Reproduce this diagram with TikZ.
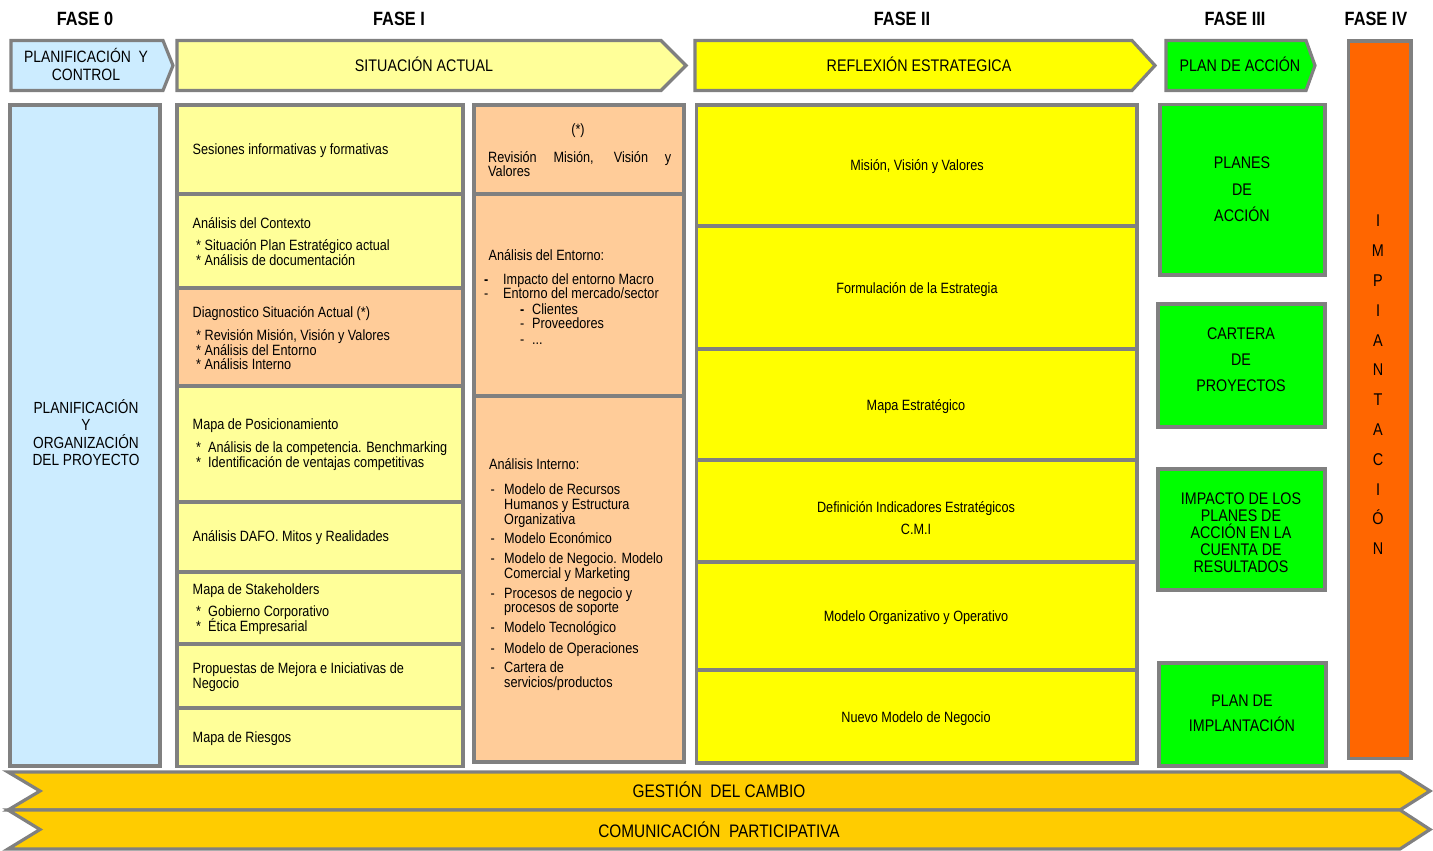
\documentclass[tikz,border=0pt]{standalone}
\usepackage{fontspec}
\setmainfont{Liberation Sans}[FakeStretch=0.85]
\usetikzlibrary{fit}
\definecolor{bordergray}{HTML}{808080}
\definecolor{lblue}{HTML}{CCECFF}
\definecolor{lyellow}{HTML}{FFFF99}
\definecolor{lorange}{HTML}{FFCC99}
\definecolor{yel}{HTML}{FFFF00}
\definecolor{grn}{HTML}{00FF00}
\definecolor{orng}{HTML}{FF6600}
\definecolor{gold}{HTML}{FFCC00}
\begin{document}
\begin{tikzpicture}[x=1pt,y=-1pt,
  box/.style={draw=bordergray, line width=3.2pt, inner sep=0pt, outer sep=0pt},
  arrowshape/.style={draw=bordergray, line width=3.2pt, line join=miter},
  txt/.style={inner sep=0pt, anchor=base west, font=\fontsize{14.9}{17.6}\selectfont},
  ctxt/.style={inner sep=0pt, anchor=base, font=\fontsize{14.9}{17.6}\selectfont},
  hdr/.style={inner sep=0pt, anchor=center, font=\fontsize{19.2}{22}\selectfont\bfseries},
  bigtxt/.style={inner sep=0pt, align=center, anchor=center, font=\fontsize{16.8}{18}\selectfont},
  bandtxt/.style={inner sep=0pt, anchor=center, font=\fontsize{18.1}{20}\selectfont},
]
\useasboundingbox (0,0) rectangle (1433,851);

% phase headers
\node[hdr] (h0) at (85,19) {FASE 0};
\node[hdr] (h1) at (399,19) {FASE I};
\node[hdr] (h2) at (902,19) {FASE II};
\node[hdr] (h3) at (1235,19) {FASE III};
\node[hdr] (h4) at (1376,19) {FASE IV};

% top arrows
\draw[arrowshape, fill=lblue] (11,40.5) -- (163,40.5) -- (173,65.5) -- (163,90.5) -- (11,90.5) -- cycle;
\draw[arrowshape, fill=lyellow] (177,40.5) -- (661,40.5) -- (686,65.5) -- (661,90.5) -- (177,90.5) -- cycle;
\draw[arrowshape, fill=yel] (695,40.5) -- (1132,40.5) -- (1155,65.5) -- (1132,90.5) -- (695,90.5) -- cycle;
\draw[arrowshape, fill=grn] (1166,40.5) -- (1306,40.5) -- (1315,65.5) -- (1306,90.5) -- (1166,90.5) -- cycle;
\node[bigtxt, font=\fontsize{16.4}{18}\selectfont] (a0t) at (86,64.5) {PLANIFICACIÓN\ \ Y\\CONTROL};
\node[bigtxt, anchor=base] (a1t) at (424,71.5) {SITUACIÓN ACTUAL};
\node[bigtxt, anchor=base] (a2t) at (919,71.5) {REFLEXIÓN ESTRATEGICA};
\node[bigtxt, anchor=base] (a3t) at (1240,71.5) {PLAN DE ACCIÓN};

% Fase IV bar
\node[box, fill=orng, fit={(1348.5,41) (1411,758.5)}] (impl) {};
\node[bigtxt, font=\fontsize{17}{29.8}\selectfont] (implt) at (1378,385) {I\\M\\P\\I\\A\\N\\T\\A\\C\\I\\Ó\\N};

% Fase 0
\node[box, fill=lblue, fit={(10,105) (160,766)}] (lb) {};
\node[bigtxt, font=\fontsize{16.1}{17.3}\selectfont] (lbt) at (86,432.5) {PLANIFICACIÓN\\Y\\ORGANIZACIÓN\\DEL PROYECTO};

% Fase I left column
\node[box, fill=lyellow, fit={(177,105) (463,194)}] (f1a) {};
\node[box, fill=lyellow, fit={(177,194) (463,288)}] (f1b) {};
\node[box, fill=lorange, fit={(177,288) (463,386)}] (f1c) {};
\node[box, fill=lyellow, fit={(177,386) (463,502)}] (f1d) {};
\node[box, fill=lyellow, fit={(177,502) (463,572)}] (f1e) {};
\node[box, fill=lyellow, fit={(177,572) (463,644)}] (f1f) {};
\node[box, fill=lyellow, fit={(177,644) (463,708)}] (f1g) {};
\node[box, fill=lyellow, fit={(177,708) (463,766.5)}] (f1h) {};

\node[txt] (t1) at (192.5,154) {Sesiones informativas y formativas};
\node[txt] (t2) at (192.5,228) {Análisis del Contexto};
\node[txt] (t3) at (196,250) {*\ Situación Plan Estratégico actual};
\node[txt] (t4) at (196,265.5) {*\ Análisis de documentación};
\node[txt] (t5) at (192.5,317) {Diagnostico Situación Actual (*)};
\node[txt] (t6) at (196,340.5) {*\ Revisión Misión, Visión y Valores};
\node[txt] (t7) at (196,355) {*\ Análisis del Entorno};
\node[txt] (t8) at (196,369.5) {*\ Análisis Interno};
\node[txt] (t9) at (192.5,429) {Mapa de Posicionamiento};
\node[txt] (t10) at (196,452.5) {*\ \ Análisis de la competencia. Benchmarking};
\node[txt] (t11) at (196,467) {*\ \ Identificación de ventajas competitivas};
\node[txt] (t12) at (192.5,541.5) {Análisis DAFO. Mitos y Realidades};
\node[txt] (t13) at (192.5,594) {Mapa de Stakeholders};
\node[txt] (t14) at (196,616.5) {*\ \ Gobierno Corporativo};
\node[txt] (t15) at (196,631.5) {*\ \ Ética Empresarial};
\node[txt] (t16) at (192.5,673) {Propuestas de Mejora e Iniciativas de};
\node[txt] (t17) at (192.5,688) {Negocio};
\node[txt] (t18) at (192.5,742) {Mapa de Riesgos};

% Fase I orange column
\node[box, fill=lorange, fit={(474,105) (684,194)}] (o1) {};
\node[box, fill=lorange, fit={(474,194) (684,396)}] (o2) {};
\node[box, fill=lorange, fit={(474,396) (684,762)}] (o3) {};

\node[ctxt] (u1) at (578,134) {(*)};
\node[txt] (u2) at (488,162) {\makebox[183pt][s]{Revisión Misión, Visión y}};
\node[txt] (u3) at (488,176.5) {Valores};
\node[txt] (u4) at (488.5,260.5) {Análisis del Entorno:};
\node[txt] (u5) at (484,284.5) {\makebox[19pt][l]{\textbf{-}}Impacto del entorno Macro};
\node[txt] (u6) at (484,298) {\makebox[19pt][l]{-}Entorno del mercado/sector};
\node[txt] (u7) at (520,314) {\makebox[12pt][l]{\textbf{-}}Clientes};
\node[txt] (u8) at (520,328) {\makebox[12pt][l]{-}Proveedores};
\node[txt] (u9) at (520,344) {\makebox[12pt][l]{-}...};

\node[txt] (v0) at (489,469.5) {Análisis Interno:};
\node[txt] (v1) at (490.5,494) {\makebox[13.5pt][l]{-}Modelo de Recursos};
\node[txt] (v2) at (504,509) {Humanos y Estructura};
\node[txt] (v3) at (504,524) {Organizativa};
\node[txt] (v4) at (490.5,543) {\makebox[13.5pt][l]{-}Modelo Económico};
\node[txt] (v5) at (490.5,563.5) {\makebox[13.5pt][l]{-}Modelo de Negocio. Modelo};
\node[txt] (v6) at (504,578) {Comercial y Marketing};
\node[txt] (v7) at (490.5,598) {\makebox[13.5pt][l]{-}Procesos de negocio y};
\node[txt] (v8) at (504,612.5) {procesos de soporte};
\node[txt] (v9) at (490.5,632.5) {\makebox[13.5pt][l]{-}Modelo Tecnológico};
\node[txt] (v10) at (490.5,653) {\makebox[13.5pt][l]{-}Modelo de Operaciones};
\node[txt] (v11) at (490.5,672.5) {\makebox[13.5pt][l]{-}Cartera de};
\node[txt] (v12) at (504,687.5) {servicios/productos};

% Fase II column
\node[box, fill=yel, fit={(696.5,105) (1137,226)}] (y1) {};
\node[box, fill=yel, fit={(696.5,226) (1137,349)}] (y2) {};
\node[box, fill=yel, fit={(696.5,349) (1137,460)}] (y3) {};
\node[box, fill=yel, fit={(696.5,460) (1137,562)}] (y4) {};
\node[box, fill=yel, fit={(696.5,562) (1137,670)}] (y5) {};
\node[box, fill=yel, fit={(696.5,670) (1137,763)}] (y6) {};

\node[ctxt] (w1) at (917,170) {Misión, Visión y Valores};
\node[ctxt] (w2) at (917,293) {Formulación de la Estrategia};
\node[ctxt] (w3) at (916,410) {Mapa Estratégico};
\node[ctxt] (w4) at (916,512) {Definición Indicadores Estratégicos};
\node[ctxt] (w5) at (916,534) {C.M.I};
\node[ctxt] (w6) at (916,621) {Modelo Organizativo y Operativo};
\node[ctxt] (w7) at (916,722) {Nuevo Modelo de Negocio};

% Fase III
\node[box, fill=grn, fit={(1160,104.5) (1325,275)}] (g1) {};
\node[box, fill=grn, fit={(1158,304) (1325,427)}] (g2) {};
\node[box, fill=grn, fit={(1158,469) (1325,590)}] (g3) {};
\node[box, fill=grn, fit={(1159,663) (1326,766)}] (g4) {};
\node[bigtxt, font=\fontsize{16.8}{26.5}\selectfont] (g1t) at (1242,189.5) {PLANES\\DE\\ACCIÓN};
\node[bigtxt, font=\fontsize{16.8}{26}\selectfont] (g2t) at (1241,360) {CARTERA\\DE\\PROYECTOS};
\node[bigtxt, font=\fontsize{16.8}{17}\selectfont] (g3t) at (1241,533) {IMPACTO DE LOS\\PLANES DE\\ACCIÓN EN LA\\CUENTA DE\\RESULTADOS};
\node[bigtxt, font=\fontsize{16.8}{25}\selectfont] (g4t) at (1242,713.5) {PLAN DE\\IMPLANTACIÓN};

% bottom bands
\draw[arrowshape, fill=gold] (8,772) -- (1400,772) -- (1430,791) -- (1400,810) -- (8,810) -- (40,791) -- cycle;
\draw[arrowshape, fill=gold] (8,810) -- (1400,810) -- (1430,829.5) -- (1400,849) -- (8,849) -- (40,829.5) -- cycle;
\node[bandtxt] (b1t) at (719,790) {GESTIÓN\ \ DEL CAMBIO};
\node[bandtxt] (b2t) at (719,830) {COMUNICACIÓN\ \ PARTICIPATIVA};
\end{tikzpicture}
\end{document}
